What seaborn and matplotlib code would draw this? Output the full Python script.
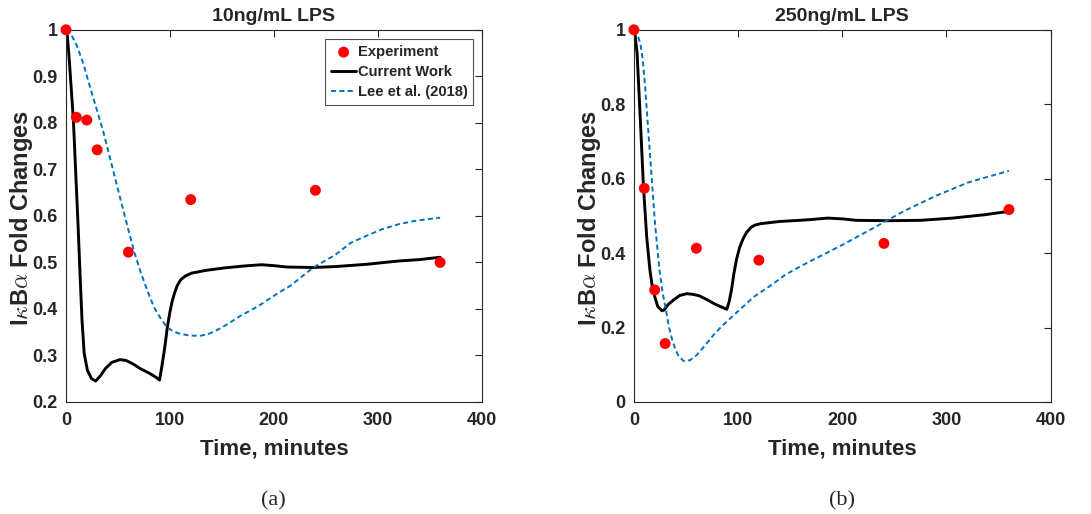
import numpy as np
import pandas as pd
import matplotlib
matplotlib.use("Agg")
import matplotlib.pyplot as plt
import seaborn as sns

# ---------------- data ----------------
exp_t = [0, 10, 20, 30, 60, 120, 240, 360]
exp_a = [1.0, 0.812, 0.806, 0.742, 0.522, 0.635, 0.655, 0.50]
exp_b = [1.0, 0.574, 0.301, 0.157, 0.413, 0.381, 0.426, 0.517]

cw_t_a = [0, 1, 3, 5, 7.1, 9.2, 11.4, 13.4, 15.4, 17.5, 20.6, 24.6, 28.6, 33, 38,
          44, 52, 58, 65, 72, 80, 86, 90, 92.5, 95.2, 97.5, 99.8, 102, 104.4, 107,
          110.5, 115, 121, 135, 152, 170, 188, 200, 213, 237.6, 259, 289.6, 320,
          340, 360]
cw_a = [1.0, 0.995, 0.94, 0.875, 0.806, 0.70, 0.591, 0.48, 0.376, 0.304, 0.268,
        0.25, 0.245, 0.256, 0.272, 0.285, 0.291, 0.289, 0.281, 0.271, 0.262, 0.254,
        0.247, 0.28, 0.32, 0.36, 0.391, 0.415, 0.434, 0.450, 0.463, 0.471, 0.477,
        0.483, 0.488, 0.492, 0.495, 0.493, 0.490, 0.489, 0.491, 0.496, 0.503,
        0.506, 0.511]

cw_t_b = [0, 1, 3.1, 6.2, 9.2, 12.3, 15.4, 17.7, 20, 23, 27, 29, 33, 38.5, 44,
          50.8, 57, 63, 70, 78.5, 85, 89.2, 91.5, 93.8, 96, 98.5, 101.5, 104.6, 108,
          112.3, 116, 121.5, 140, 164.6, 186, 200, 213.6, 244, 275, 305.7, 336.4,
          359.4]
cw_b = [1.0, 0.99, 0.937, 0.758, 0.578, 0.444, 0.354, 0.31, 0.283, 0.256, 0.245,
        0.247, 0.262, 0.275, 0.286, 0.291, 0.289, 0.285, 0.275, 0.262, 0.254, 0.249,
        0.27, 0.303, 0.345, 0.383, 0.415, 0.437, 0.455, 0.469, 0.475, 0.479, 0.485,
        0.489, 0.494, 0.492, 0.488, 0.487, 0.488, 0.494, 0.503, 0.512]

lee_t_a = [0, 5, 10.8, 17, 23, 29, 35.4, 41.5, 47.7, 54, 60, 66, 72.3, 78.5, 84.6,
           91, 97, 103, 109, 118, 128.8, 137, 145.7, 156, 167, 185, 204, 216,
           238, 259, 274, 290, 305, 320, 335, 348, 360]
lee_a = [1.0, 0.99, 0.964, 0.925, 0.878, 0.833, 0.785, 0.732, 0.677, 0.622, 0.57,
         0.52, 0.476, 0.438, 0.404, 0.38, 0.361, 0.352, 0.347, 0.343, 0.342, 0.346,
         0.355, 0.368, 0.384, 0.406, 0.434, 0.450, 0.489, 0.516, 0.542, 0.558,
         0.572, 0.582, 0.589, 0.593, 0.596]

lee_t_b = [0, 3, 6.2, 8.5, 10.8, 13, 15.4, 17.7, 20, 22.3, 24.6, 27.5, 30.8, 33.8,
           36.9, 40, 43, 47.7, 53.8, 60, 69.2, 77, 84.6, 100, 115.4, 130.8, 146,
           165, 198, 229, 260, 290, 321, 360]
lee_b = [1.0, 0.99, 0.964, 0.92, 0.848, 0.76, 0.668, 0.578, 0.489, 0.42, 0.354,
         0.295, 0.247, 0.2, 0.166, 0.14, 0.123, 0.11, 0.112, 0.125, 0.155, 0.182,
         0.204, 0.244, 0.283, 0.312, 0.343, 0.372, 0.419, 0.466, 0.514, 0.554,
         0.590, 0.621]

titles = ["10ng/mL LPS", "250ng/mL LPS"]
panel_labels = ["(a)", "(b)"]
yticks_a = [0.2, 0.3, 0.4, 0.5, 0.6, 0.7, 0.8, 0.9, 1.0]
yticklabels_a = ["0.2", "0.3", "0.4", "0.5", "0.6", "0.7", "0.8", "0.9", "1"]
yticks_b = [0, 0.2, 0.4, 0.6, 0.8, 1.0]
yticklabels_b = ["0", "0.2", "0.4", "0.6", "0.8", "1"]
xticks = [0, 100, 200, 300, 400]

# ---------------- style ----------------
sns.set_theme(style="white")
plt.rcParams['font.family'] = ['Liberation Sans', 'DejaVu Sans']
plt.rcParams['mathtext.fontset'] = 'cm'

fig = plt.figure(figsize=(10.91, 5.14), dpi=100)
ax_a = fig.add_axes([0.0605, 0.218, 0.381, 0.724])
ax_b = fig.add_axes([0.581, 0.218, 0.382, 0.724])

red = "#FF0000"
blue = "#0072BD"

panels = [
    (ax_a, exp_a, cw_t_a, cw_a, lee_t_a, lee_a, (0.2, 1.0), yticks_a, yticklabels_a),
    (ax_b, exp_b, cw_t_b, cw_b, lee_t_b, lee_b, (0.0, 1.0), yticks_b, yticklabels_b),
]

for i, (ax, ev, ct, cv, lt, lv, ylim, yt, ytl) in enumerate(panels):
    df_exp = pd.DataFrame({"t": exp_t, "v": ev})
    df_cw = pd.DataFrame({"t": ct, "v": cv})
    df_lee = pd.DataFrame({"t": lt, "v": lv})
    sns.lineplot(data=df_cw, x="t", y="v", ax=ax, color="black", lw=2.1,
                 label="Current Work", sort=False, zorder=2)
    sns.lineplot(data=df_lee, x="t", y="v", ax=ax, color=blue, lw=1.4,
                 linestyle=(0, (2.6, 1.7)), label="Lee et al. (2018)", sort=False,
                 zorder=3)
    sns.scatterplot(data=df_exp, x="t", y="v", ax=ax, color=red, s=62,
                    edgecolor="none", label="Experiment", zorder=4, clip_on=False)
    ax.set_xlim(0, 400)
    ax.set_ylim(*ylim)
    ax.set_xticks(xticks)
    ax.set_xticklabels([str(x) for x in xticks])
    ax.set_yticks(yt)
    ax.set_yticklabels(ytl)
    ax.tick_params(direction="in", length=5, width=0.8, top=True, right=True,
                   labelsize=13, colors="#262626")
    ax.tick_params(axis="x", pad=7)
    ax.tick_params(axis="y", pad=6)
    for lab in ax.get_xticklabels() + ax.get_yticklabels():
        lab.set_fontweight("bold")
    for s in ax.spines.values():
        s.set_color("#262626")
        s.set_linewidth(0.8)
    ax.set_xlabel("Time, minutes", fontsize=16, fontweight="bold", labelpad=7)
    ax.set_ylabel(r"I$\kappa$B$\alpha$ Fold Changes", fontsize=17,
                  fontweight="bold")
    ax.yaxis.set_label_coords(-0.075, 0.495)
    ax.set_title(titles[i], fontsize=14, fontweight="bold", pad=6)
    ax.text(0.5, -0.265, panel_labels[i], transform=ax.transAxes, ha="center",
            va="center", fontsize=16, family="Liberation Serif")
    if i == 0:
        handles, labels = ax.get_legend_handles_labels()
        order = [labels.index("Experiment"), labels.index("Current Work"),
                 labels.index("Lee et al. (2018)")]
        leg = ax.legend([handles[k] for k in order], [labels[k] for k in order],
                        loc="upper right", bbox_to_anchor=(0.98, 0.975),
                        prop={"weight": "bold", "size": 10.6}, frameon=True,
                        fancybox=False, edgecolor="#262626", handlelength=1.7,
                        handletextpad=0.1, borderpad=0.4, labelspacing=0.42,
                        borderaxespad=0)
        leg.get_frame().set_linewidth(0.8)
    else:
        ax.get_legend().remove()

fig.savefig("out.png", dpi=100)
